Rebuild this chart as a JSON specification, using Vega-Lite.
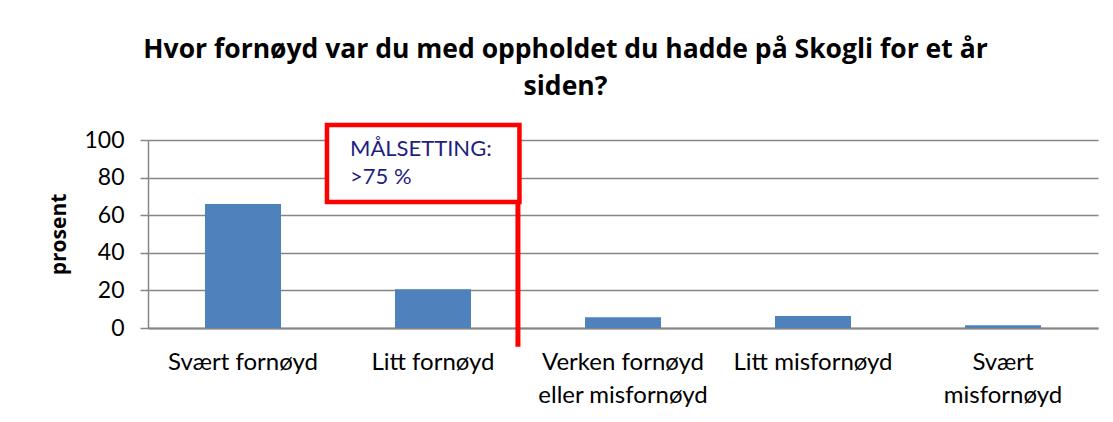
{
  "$schema": "https://vega.github.io/schema/vega-lite/v6.json",
  "width": 950,
  "height": 188,
  "autosize": {"type": "none"},
  "padding": {"left": 148, "top": 140, "right": 15, "bottom": 94},
  "background": "white",
  "config": {
    "view": {"stroke": null},
    "font": "Lato"
  },
  "title": {
    "text": ["Hvor fornøyd var du med oppholdet du hadde på Skogli for et år", "siden?"],
    "font": "Open Sans",
    "fontSize": 26.5,
    "fontWeight": "bold",
    "color": "black",
    "lineHeight": 37,
    "anchor": "middle",
    "frame": "bounds",
    "offset": 22,
    "dx": -8
  },
  "datasets": {
    "bars": [
      {"kategori": "Svært fornøyd", "prosent": 66},
      {"kategori": "Litt fornøyd", "prosent": 20.6},
      {"kategori": "Verken fornøyd eller misfornøyd", "prosent": 5.7},
      {"kategori": "Litt misfornøyd", "prosent": 6.4},
      {"kategori": "Svært misfornøyd", "prosent": 1.5}
    ],
    "maal": [
      {"x0": 0.942, "x1": 1.955, "y0": 67, "y1": 108, "lx": 1.947, "ly0": -10, "tx": 1.063, "ty": 91.5, "tekst": "MÅLSETTING:\n>75 %"}
    ]
  },
  "layer": [
    {
      "data": {"name": "bars"},
      "mark": {"type": "bar", "color": "#4F81BD"},
      "encoding": {
        "x": {
          "field": "kategori",
          "type": "nominal",
          "sort": null,
          "scale": {"paddingInner": 0.6, "paddingOuter": 0.3},
          "axis": {
            "title": null,
            "labelAngle": 0,
            "labelFont": "Lato",
            "labelFontSize": 24,
            "labelColor": "black",
            "labelPadding": 22,
            "labelLineHeight": 33,
            "labelLimit": 400,
            "ticks": false,
            "domainColor": "#868686",
            "domainWidth": 2,
            "labelExpr": "datum.label == 'Verken fornøyd eller misfornøyd' ? ['Verken fornøyd', 'eller misfornøyd'] : datum.label == 'Svært misfornøyd' ? ['Svært', 'misfornøyd'] : datum.label"
          }
        },
        "y": {
          "field": "prosent",
          "type": "quantitative",
          "scale": {"domain": [0, 100], "nice": false},
          "axis": {
            "title": "prosent",
            "titleFont": "Open Sans",
            "titleFontSize": 21,
            "titleFontWeight": "bold",
            "titleColor": "black",
            "titlePadding": 14,
            "values": [0, 20, 40, 60, 80, 100],
            "labelOverlap": false,
            "labelFont": "Lato",
            "labelFontSize": 23,
            "labelColor": "black",
            "labelPadding": 16,
            "tickSize": 8,
            "tickColor": "#868686",
            "tickWidth": 1.5,
            "domainColor": "#868686",
            "domainWidth": 1.5,
            "grid": true,
            "gridColor": "#868686",
            "gridWidth": 1.5
          }
        }
      }
    },
    {
      "data": {"name": "maal"},
      "layer": [
        {
          "mark": {"type": "rect", "fill": "white", "stroke": "#FF0000", "strokeWidth": 4.5},
          "encoding": {
            "x": {"field": "x0", "type": "quantitative", "scale": {"domain": [0, 5], "nice": false, "zero": false}, "axis": null},
            "x2": {"field": "x1"},
            "y": {"field": "y0", "type": "quantitative", "scale": {"domain": [0, 100], "nice": false, "zero": false}, "axis": null},
            "y2": {"field": "y1"}
          }
        },
        {
          "mark": {"type": "rule", "color": "#FF0000", "strokeWidth": 5},
          "encoding": {
            "x": {"field": "lx", "type": "quantitative"},
            "y": {"field": "ly0", "type": "quantitative"},
            "y2": {"field": "y0"}
          }
        },
        {
          "mark": {"type": "text", "align": "left", "baseline": "alphabetic", "font": "Lato", "fontSize": 22, "color": "#1F1F80", "lineBreak": "\n", "lineHeight": 28},
          "encoding": {
            "x": {"field": "tx", "type": "quantitative"},
            "y": {"field": "ty", "type": "quantitative"},
            "text": {"field": "tekst"}
          }
        }
      ]
    }
  ],
  "resolve": {"scale": {"x": "independent", "y": "independent"}, "axis": {"x": "independent", "y": "independent"}}
}
